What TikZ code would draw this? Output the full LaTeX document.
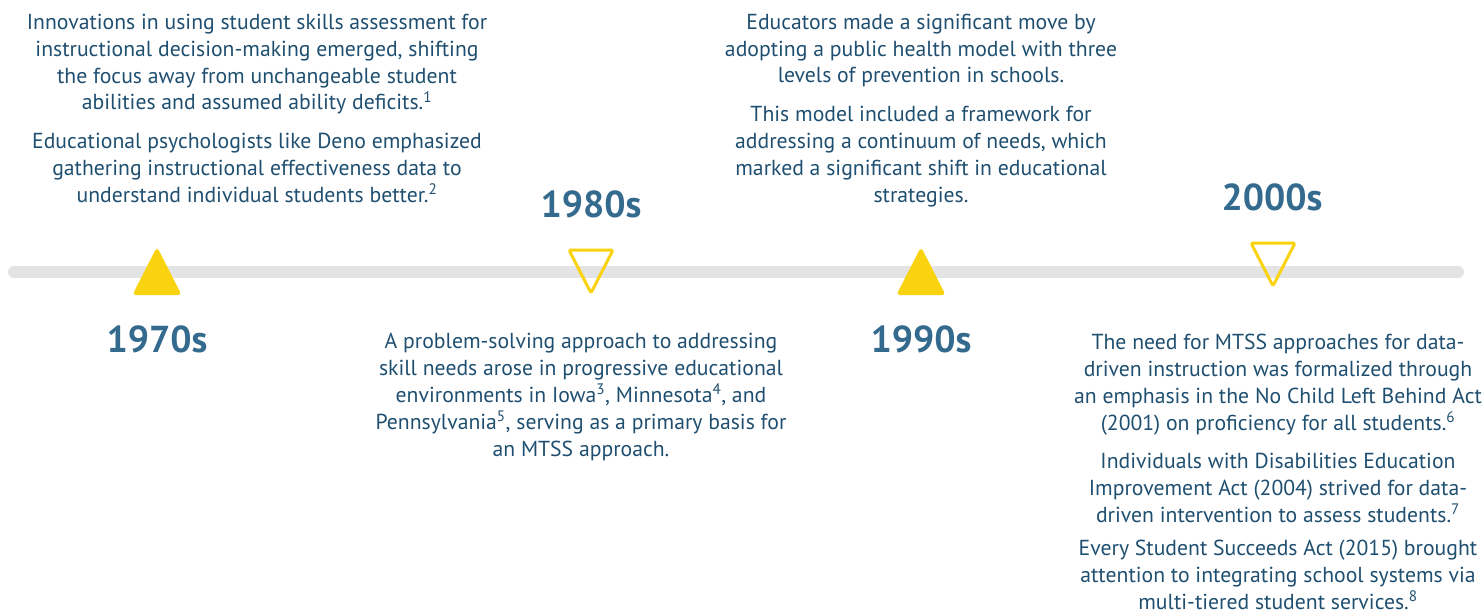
\documentclass[tikz,border=0pt]{standalone}
\usepackage{fontspec}
\setmainfont{PT Sans}
\definecolor{gold}{HTML}{F9D30F}
\definecolor{yearblue}{HTML}{346A8E}
\definecolor{textblue}{HTML}{1F4F70}
\definecolor{bargray}{HTML}{E4E4E4}
\newcommand\fnote[1]{\textsuperscript{#1}}
\tikzset{
  para/.style={align=center, anchor=base, inner sep=0pt, text=textblue,
    font=\fontsize{21.7}{26.8}\selectfont},
  year/.style={anchor=base, inner sep=0pt, text=yearblue,
    font=\fontsize{37.5}{40}\selectfont\bfseries},
  filledtri/.style={fill=gold, draw=gold, line width=2pt, line join=round, rounded corners=2pt},
  opentri/.style={draw=gold, line width=3pt, line join=round, rounded corners=2pt},
}
\begin{document}
\begin{tikzpicture}[x=1pt, y=-1pt]
\useasboundingbox (0,0) rectangle (1483,615);
% timeline bar
\coordinate (barL) at (14,272);
\coordinate (barR) at (1458,272);
\draw[bargray, line width=12pt, line cap=round] (barL) -- (barR);
% markers
\filldraw[filledtri] (134,294) -- (157,249) -- (180,294) -- cycle;
\draw[opentri] (569,250) -- (613,250) -- (591,293) -- cycle;
\filldraw[filledtri] (898,294) -- (921,249) -- (944,294) -- cycle;
\draw[opentri] (1251,243) -- (1295,243) -- (1273,286) -- cycle;
% years
\node[year] (y70) at (157,352) {1970s};
\node[year] (y80) at (591,217) {1980s};
\node[year] (y90) at (921,352) {1990s};
\node[year] (y00) at (1272,210) {2000s};
% texts (anchored at the baseline of their last line)
\node[para] (t70a) at (257,110) {Innovations in using student skills assessment for\\instructional decision-making emerged, shifting\\the focus away from unchangeable student\\abilities and assumed ability deficits.\fnote{1}};
\node[para] (t70b) at (257,202) {Educational psychologists like Deno emphasized\\gathering instructional effectiveness data to\\understand individual students better.\fnote{2}};
\node[para] (t80) at (581,456) {A problem-solving approach to addressing\\skill needs arose in progressive educational\\environments in Iowa\fnote{3}, Minnesota\fnote{4}, and\\Pennsylvania\fnote{5}, serving as a primary basis for\\an MTSS approach.};
\node[para] (t90a) at (921,83) {Educators made a significant move by\\adopting a public health model with three\\levels of prevention in schools.};
\node[para] (t90b) at (921,202) {This model included a framework for\\addressing a continuum of needs, which\\marked a significant shift in educational\\strategies.};
\node[para] (t00a) at (1278,430) {The need for MTSS approaches for data-\\driven instruction was formalized through\\an emphasis in the No Child Left Behind Act\\(2001) on proficiency for all students.\fnote{6}};
\node[para] (t00b) at (1278,522) {Individuals with Disabilities Education\\Improvement Act (2004) strived for data-\\driven intervention to assess students.\fnote{7}};
\node[para] (t00c) at (1278,609) {Every Student Succeeds Act (2015) brought\\attention to integrating school systems via\\multi-tiered student services.\fnote{8}};
\end{tikzpicture}
\end{document}
